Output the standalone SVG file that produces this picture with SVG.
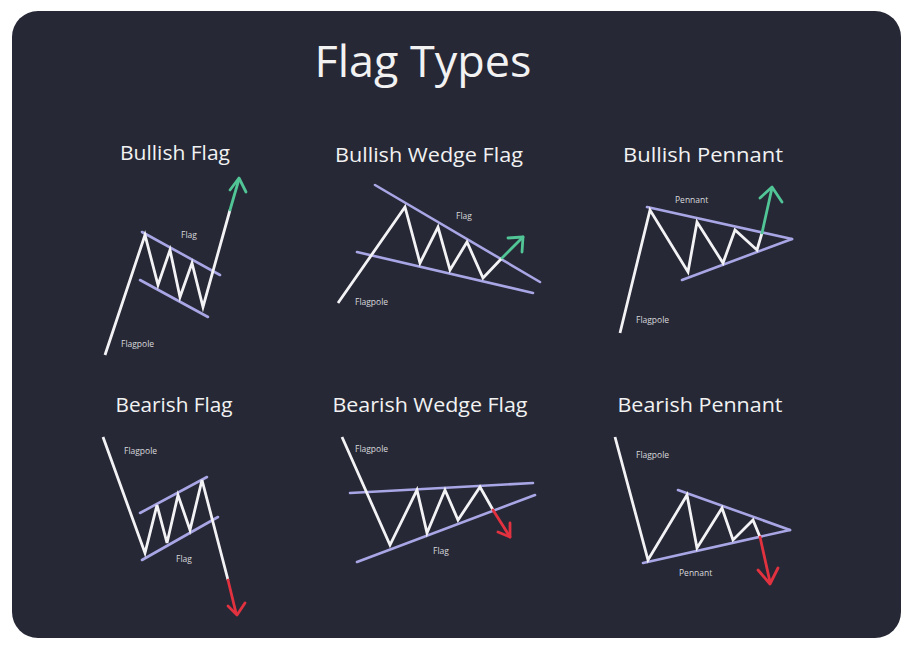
<svg xmlns="http://www.w3.org/2000/svg" width="916" height="650" viewBox="0 0 916 650">
<defs>
<style>
.bg{fill:#262836}
.title{font-family:"Open Sans","Noto Sans",sans-serif;fill:#f2f2f2;text-anchor:middle}
.h{font-size:20px}
.lbl{font-family:"Open Sans","Noto Sans",sans-serif;font-size:8.5px;fill:#d8d8dc}
.w{fill:none;stroke:#f3f3f5;stroke-width:2.8;stroke-linejoin:miter;stroke-linecap:butt}
.b{fill:none;stroke:#a9a6e6;stroke-width:2.6;stroke-linecap:round}
.g{fill:none;stroke:#52c597;stroke-width:2.8;stroke-linecap:round;stroke-linejoin:round}
.r{fill:none;stroke:#e2323f;stroke-width:2.8;stroke-linecap:round;stroke-linejoin:round}
</style>
</defs>
<rect width="916" height="650" fill="#ffffff"/>
<rect class="bg" x="12" y="11" width="889" height="627" rx="26" ry="26"/>
<text class="title" x="423" y="77" font-size="43" textLength="217" lengthAdjust="spacingAndGlyphs">Flag Types</text>

<g id="bullish-flag">
<text class="title h" x="175" y="160" textLength="110" lengthAdjust="spacingAndGlyphs">Bullish Flag</text>
<line class="b" x1="142" y1="232" x2="220" y2="275"/>
<line class="b" x1="140" y1="280" x2="208" y2="317"/>
<polyline class="w" points="105,355 145,235 158,285 170,250 180,297 192,263 203,307 230,210"/>
<polyline class="g" points="230,210 239,179"/>
<polyline class="g" points="230,190 239,178 246,192"/>
<text class="lbl" x="181" y="238">Flag</text>
<text class="lbl" x="121" y="347">Flagpole</text>
</g>

<g id="bullish-wedge-flag">
<text class="title h" x="429" y="162" textLength="188" lengthAdjust="spacingAndGlyphs">Bullish Wedge Flag</text>
<line class="b" x1="375" y1="185" x2="540" y2="282"/>
<line class="b" x1="357" y1="252" x2="533" y2="293"/>
<polyline class="w" points="338,303 405,207 420,263 438,227 450,270 467,242 483,278 502,258"/>
<polyline class="g" points="502,258 523,237"/>
<polyline class="g" points="508,238 523,237 522,252"/>
<text class="lbl" x="456" y="219">Flag</text>
<text class="lbl" x="355" y="305">Flagpole</text>
</g>

<g id="bullish-pennant">
<text class="title h" x="703" y="162" textLength="160" lengthAdjust="spacingAndGlyphs">Bullish Pennant</text>
<line class="b" x1="647" y1="207" x2="792" y2="239"/>
<line class="b" x1="682" y1="280" x2="792" y2="239"/>
<polyline class="w" points="620,333 650,210 688,272 697,222 723,263 735,230 757,250 762,233"/>
<polyline class="g" points="762,233 772,188"/>
<polyline class="g" points="760,198 772,187 782,202"/>
<text class="lbl" x="675" y="203">Pennant</text>
<text class="lbl" x="636" y="323">Flagpole</text>
</g>

<g id="bearish-flag">
<text class="title h" x="174" y="412" textLength="117" lengthAdjust="spacingAndGlyphs">Bearish Flag</text>
<line class="b" x1="140" y1="513" x2="207" y2="477"/>
<line class="b" x1="142" y1="560" x2="218" y2="517"/>
<polyline class="w" points="103,437 145,553 157,505 167,543 178,495 190,530 202,480 228,580"/>
<polyline class="r" points="228,580 236,613"/>
<polyline class="r" points="228,606 237,615 245,603"/>
<text class="lbl" x="124" y="454">Flagpole</text>
<text class="lbl" x="176" y="562">Flag</text>
</g>

<g id="bearish-wedge-flag">
<text class="title h" x="430" y="412" textLength="195" lengthAdjust="spacingAndGlyphs">Bearish Wedge Flag</text>
<line class="b" x1="350" y1="493" x2="533" y2="483"/>
<line class="b" x1="357" y1="562" x2="535" y2="495"/>
<polyline class="w" points="342,437 390,545 417,490 427,533 445,490 458,520 480,487 493,510"/>
<polyline class="r" points="493,510 510,537"/>
<polyline class="r" points="498,532 510,537 510,523"/>
<text class="lbl" x="355" y="452">Flagpole</text>
<text class="lbl" x="433" y="554">Flag</text>
</g>

<g id="bearish-pennant">
<text class="title h" x="700" y="412" textLength="165" lengthAdjust="spacingAndGlyphs">Bearish Pennant</text>
<line class="b" x1="678" y1="490" x2="790" y2="530"/>
<line class="b" x1="643" y1="563" x2="790" y2="530"/>
<polyline class="w" points="615,437 648,560 687,495 697,548 722,508 733,540 753,520 760,537"/>
<polyline class="r" points="760,537 770,582"/>
<polyline class="r" points="758,570 770,584 778,568"/>
<text class="lbl" x="636" y="458">Flagpole</text>
<text class="lbl" x="679" y="576">Pennant</text>
</g>
</svg>
